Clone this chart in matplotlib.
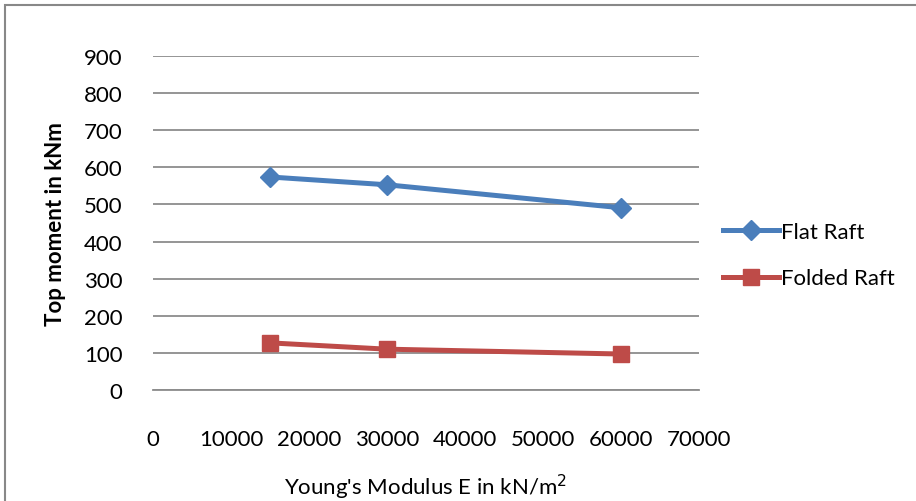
import matplotlib
matplotlib.use("Agg")
import matplotlib.pyplot as plt
from matplotlib.patches import Rectangle

# data
E_kN_m2 = [15000, 30000, 60000]
flat_raft = [574, 553, 491]
folded_raft = [127, 110, 97]
x_ticks = [0, 10000, 20000, 30000, 40000, 50000, 60000, 70000]
y_ticks = [0, 100, 200, 300, 400, 500, 600, 700, 800, 900]

plt.rcParams["font.family"] = ["Lato", "DejaVu Sans"]

fig = plt.figure(figsize=(9.16, 5.02), dpi=100)
W, H = 916, 502
ax = fig.add_axes([153 / W, 1 - 391 / H, (699 - 153) / W, (391 - 57) / H])

# outer chart border
fig.patches.append(Rectangle((5 / W, -0.05), 1.1, 1 - 6 / H + 0.05,
                             transform=fig.transFigure, fill=False,
                             edgecolor="#888888", lw=1.5))

ax.plot(E_kN_m2, flat_raft, color="#4A7EBB", lw=3.6, marker="D", ms=10,
        label="Flat Raft", clip_on=False)
ax.plot(E_kN_m2, folded_raft, color="#BE4B48", lw=3.6, marker="s", ms=12,
        label="Folded Raft", clip_on=False)

ax.set_xlim(0, 70000)
ax.set_ylim(0, 900)
ax.set_xticks(x_ticks)
ax.set_yticks(y_ticks)
ax.tick_params(length=0, labelsize=16)
ax.tick_params(axis="x", pad=28)
ax.tick_params(axis="y", pad=22)
ax.grid(axis="y", color="#8c8c8c", lw=1.3)
ax.set_axisbelow(True)
for s in ["left", "right", "top"]:
    ax.spines[s].set_visible(False)
ax.spines["bottom"].set_color("#8c8c8c")
ax.spines["bottom"].set_linewidth(1.3)

fig.text(55 / W, 1 - 224 / H, "Top moment in kNm", fontsize=16,
         fontweight="bold", rotation=90, ha="center", va="center")
fig.text(425 / W, 1 - 487 / H, "Young's Modulus E in kN/m$^2$", fontsize=16,
         ha="center", va="center")

ax.legend(loc="center left", bbox_to_anchor=(1.0, 0.404), frameon=False,
          fontsize=16, handlelength=2.5, handletextpad=0.1, labelspacing=1.2,
          borderaxespad=0.7)

fig.savefig("out.png", dpi=100)
